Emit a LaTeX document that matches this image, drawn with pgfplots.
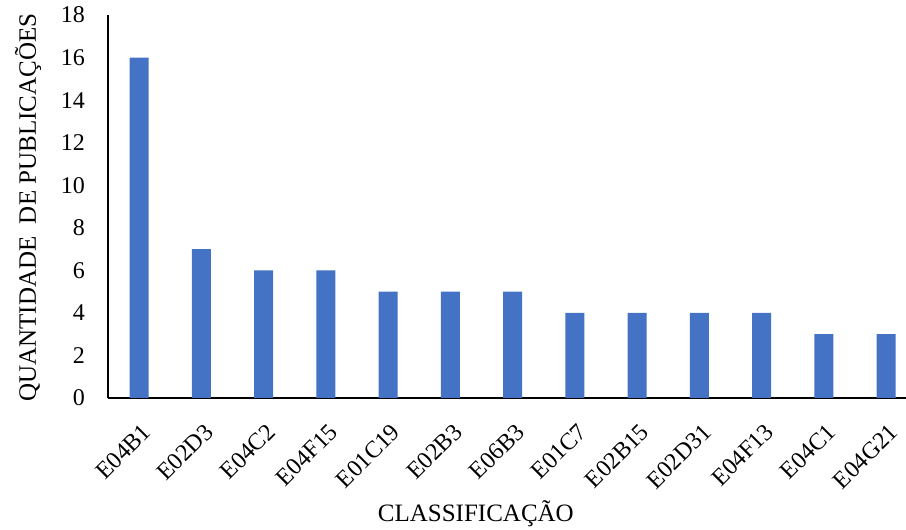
\documentclass[border=0pt]{standalone}
\usepackage{pgfplots}
\pgfplotsset{compat=1.18}
\usepackage{fontspec}
\setmainfont{Liberation Serif}
\definecolor{barblue}{HTML}{4472C4}

\begin{document}
\begin{tikzpicture}
    \begin{axis}[
        scale only axis,
        width=798pt, height=383pt,
        font=\fontsize{24}{28}\selectfont,
        /pgf/number format/assume math mode=true,
        axis lines*=left,
        axis line style={black, line width=1.1pt},
        major tick length=0pt,
        xmin=-0.498, xmax=12.32,
        ymin=0, ymax=18,
        ytick={0,2,...,18},
        xtick={0,...,12},
        xticklabels={E04B1,E02D3,E04C2,E04F15,E01C19,E02B3,E06B3,E01C7,E02B15,E02D31,E04F13,E04C1,E04G21},
        yticklabel style={anchor=east, inner sep=0pt, xshift=-23pt},
        xticklabel style={yshift=-24pt, xshift=2pt, rotate=45, anchor=north east, inner sep=0pt},
        xlabel={CLASSIFICAÇÃO},
        xlabel style={font=\fontsize{25}{29}\selectfont, at={(axis description cs:0.461,0)}, anchor=center, yshift=-116pt},
        ylabel={QUANTIDADE\ \ DE PUBLICAÇÕES},
        ylabel style={font=\fontsize{25}{29}\selectfont, at={(axis description cs:-0.1003,0.497)}, anchor=center},
        clip=false,
    ]
        \addplot[ybar, bar width=19pt, fill=barblue, draw=none] coordinates {
            (0,16) (1,7) (2,6) (3,6) (4,5) (5,5) (6,5)
            (7,4) (8,4) (9,4) (10,4) (11,3) (12,3)};
    \end{axis}
    \pgfresetboundingbox
    \path (-108pt,-132pt) rectangle (798pt,398pt);
\end{tikzpicture}
\end{document}
